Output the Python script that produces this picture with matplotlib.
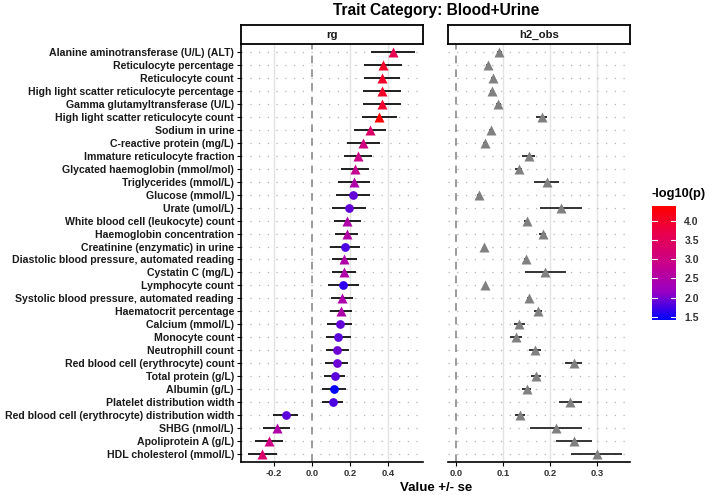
import numpy as np
import matplotlib
matplotlib.use('Agg')
import matplotlib.pyplot as plt
from matplotlib.colors import LinearSegmentedColormap, Normalize
from matplotlib.colorbar import ColorbarBase

plt.rcParams['font.family'] = ['Liberation Sans', 'DejaVu Sans']

traits = [
    'Alanine aminotransferase (U/L) (ALT)', 'Reticulocyte percentage', 'Reticulocyte count',
    'High light scatter reticulocyte percentage', 'Gamma glutamyltransferase (U/L)',
    'High light scatter reticulocyte count', 'Sodium in urine', 'C-reactive protein (mg/L)',
    'Immature reticulocyte fraction', 'Glycated haemoglobin (mmol/mol)', 'Triglycerides (mmol/L)',
    'Glucose (mmol/L)', 'Urate (umol/L)', 'White blood cell (leukocyte) count',
    'Haemoglobin concentration', 'Creatinine (enzymatic) in urine',
    'Diastolic blood pressure, automated reading', 'Cystatin C (mg/L)', 'Lymphocyte count',
    'Systolic blood pressure, automated reading', 'Haematocrit percentage', 'Calcium (mmol/L)',
    'Monocyte count', 'Neutrophill count', 'Red blood cell (erythrocyte) count',
    'Total protein (g/L)', 'Albumin (g/L)', 'Platelet distribution width',
    'Red blood cell (erythrocyte) distribution width', 'SHBG (nmol/L)',
    'Apoliprotein A (g/L)', 'HDL cholesterol (mmol/L)',
]

rg = [0.426, 0.372, 0.368, 0.370, 0.367, 0.354, 0.305, 0.270, 0.242, 0.226, 0.221,
      0.214, 0.195, 0.186, 0.182, 0.172, 0.170, 0.167, 0.165, 0.158, 0.153, 0.146,
      0.139, 0.133, 0.130, 0.119, 0.116, 0.109, -0.139, -0.186, -0.228, -0.261]
rg_se = [0.118, 0.100, 0.097, 0.100, 0.100, 0.093, 0.086, 0.086, 0.075, 0.075, 0.085,
         0.090, 0.088, 0.070, 0.062, 0.080, 0.064, 0.063, 0.082, 0.060, 0.058, 0.065,
         0.065, 0.060, 0.060, 0.056, 0.062, 0.055, 0.066, 0.070, 0.073, 0.075]
neglog_p = [3.6, 4.0, 4.0, 4.0, 3.95, 4.38, 3.35, 3.05, 2.95, 2.8, 2.5,
            1.9, 1.9, 2.5, 2.55, 1.8, 2.5, 2.5, 1.65, 2.45, 2.45, 1.9,
            1.85, 1.95, 1.95, 1.85, 1.42, 1.8, 1.85, 2.5, 3.0, 3.3]
shape = ['^'] * 11 + ['o', 'o', '^', '^', 'o', '^', '^', 'o', '^', '^',
                      'o', 'o', 'o', 'o', 'o', 'o', 'o', 'o', '^', '^', '^']

h2 = [0.092, 0.067, 0.079, 0.077, 0.090, 0.182, 0.074, 0.062, 0.155, 0.133, 0.193,
      0.048, 0.223, 0.150, 0.184, 0.060, 0.149, 0.190, 0.062, 0.155, 0.174, 0.135,
      0.128, 0.168, 0.250, 0.170, 0.150, 0.243, 0.136, 0.213, 0.251, 0.299]
h2_se = [0.005, 0.004, 0.004, 0.004, 0.005, 0.012, 0.004, 0.004, 0.014, 0.008, 0.027,
         0.003, 0.045, 0.006, 0.008, 0.003, 0.005, 0.044, 0.003, 0.005, 0.008, 0.012,
         0.013, 0.012, 0.018, 0.011, 0.009, 0.024, 0.010, 0.055, 0.039, 0.054]

W, H = 709, 495
fig = plt.figure(figsize=(W / 100, H / 100), dpi=100)

cmap = LinearSegmentedColormap.from_list(
    'bluered', ['#0000FF', '#9A00C3', '#C90089', '#E8004F', '#FF0000'])
norm = Normalize(vmin=min(neglog_p), vmax=max(neglog_p))


def px(x0, y0, x1, y1):
    return [x0 / W, 1 - y1 / H, (x1 - x0) / W, (y1 - y0) / H]


ytop, ybot = 44, 462
ax_l = fig.add_axes(px(241, ytop, 423, ybot))
ax_r = fig.add_axes(px(448, ytop, 630, ybot))
n = len(traits)
ypos = np.arange(n)

for ax, xlim, ticks in [(ax_l, (-0.374, 0.584), [-0.2, 0.0, 0.2, 0.4]),
                        (ax_r, (-0.017, 0.370), [0.0, 0.1, 0.2, 0.3])]:
    ax.set_xlim(*xlim)
    ax.set_ylim(n - 0.4, -0.6)
    ax.set_xticks(ticks)
    ax.set_xticklabels([f'{t:.1f}' for t in ticks], fontsize=6.8, fontweight='bold',
                       color='#333333')
    for t in ticks:
        if t != 0:
            ax.axvline(t, color='#E3E3E3', lw=1.0, zorder=0)
    for y in ypos:
        ax.axhline(y, color='#B5B5B5', lw=0.9, ls=(0, (1, 6)), zorder=0)
    ax.axvline(0, color='#808080', lw=1.1, ls=(0, (5, 4)), zorder=1)
    for s in ['top', 'right']:
        ax.spines[s].set_visible(False)
    ax.spines['bottom'].set_linewidth(1.2)
    ax.tick_params(axis='x', length=3, width=0.8, pad=2)

ax_l.spines['left'].set_linewidth(1.2)
ax_l.set_yticks(ypos)
ax_l.set_yticklabels(traits, fontsize=7.6, fontweight='bold', color='#1a1a1a')
ax_l.tick_params(axis='y', length=3, width=0.8, pad=2)
ax_r.spines['left'].set_visible(False)
ax_r.set_yticks([])

# rg panel
ax_l.hlines(ypos, np.array(rg) - np.array(rg_se), np.array(rg) + np.array(rg_se),
            color='#1e1e1e', lw=1.4, zorder=2)
for i in range(n):
    ax_l.plot(rg[i], ypos[i], marker=shape[i], color=cmap(norm(neglog_p[i])),
              ms=7 if shape[i] == '^' else 6.3, mec='none', zorder=3)

# h2 panel
ax_r.hlines(ypos, np.array(h2) - np.array(h2_se), np.array(h2) + np.array(h2_se),
            color='#333333', lw=1.4, zorder=2)
ax_r.plot(h2, ypos, ls='none', marker='^', color='#808080', ms=7, mec='none', zorder=3)

# strips
for (x0, x1), lab in [((241, 423), 'rg'), ((448, 630), 'h2_obs')]:
    sa = fig.add_axes(px(x0, 25, x1, ytop))
    sa.set_xticks([]); sa.set_yticks([])
    for s in sa.spines.values():
        s.set_linewidth(1.3)
    sa.text(0.5, 0.5, lab, ha='center', va='center', fontsize=8.2, fontweight='bold',
            color='#1a1a1a')

fig.text(436 / W, 1 - 11 / H, 'Trait Category: Blood+Urine', ha='center', va='center',
         fontsize=11.2, fontweight='bold')
fig.text(436 / W, 1 - 488 / H, 'Value +/- se', ha='center', va='center',
         fontsize=9.5, fontweight='bold')

# colour bar
cax = fig.add_axes(px(652, 206, 676, 320))
cb = ColorbarBase(cax, cmap=cmap, norm=norm, orientation='vertical')
cb.outline.set_visible(False)
cb.set_ticks([1.5, 2.0, 2.5, 3.0, 3.5, 4.0])
cb.ax.set_yticklabels(['1.5', '2.0', '2.5', '3.0', '3.5', '4.0'], fontsize=7.5,
                      fontweight='bold', color='#333333')
cb.ax.tick_params(length=0, pad=6)
for t in [1.5, 2.0, 2.5, 3.0, 3.5, 4.0]:
    cax.plot([0, 0.2], [t, t], color='white', lw=0.8, transform=cax.get_yaxis_transform())
    cax.plot([0.8, 1], [t, t], color='white', lw=0.8, transform=cax.get_yaxis_transform())
fig.text(652 / W, 1 - 194 / H, '-log10(p)', ha='left', va='center', fontsize=9.3,
         fontweight='bold')

fig.savefig('out.png', dpi=100)
